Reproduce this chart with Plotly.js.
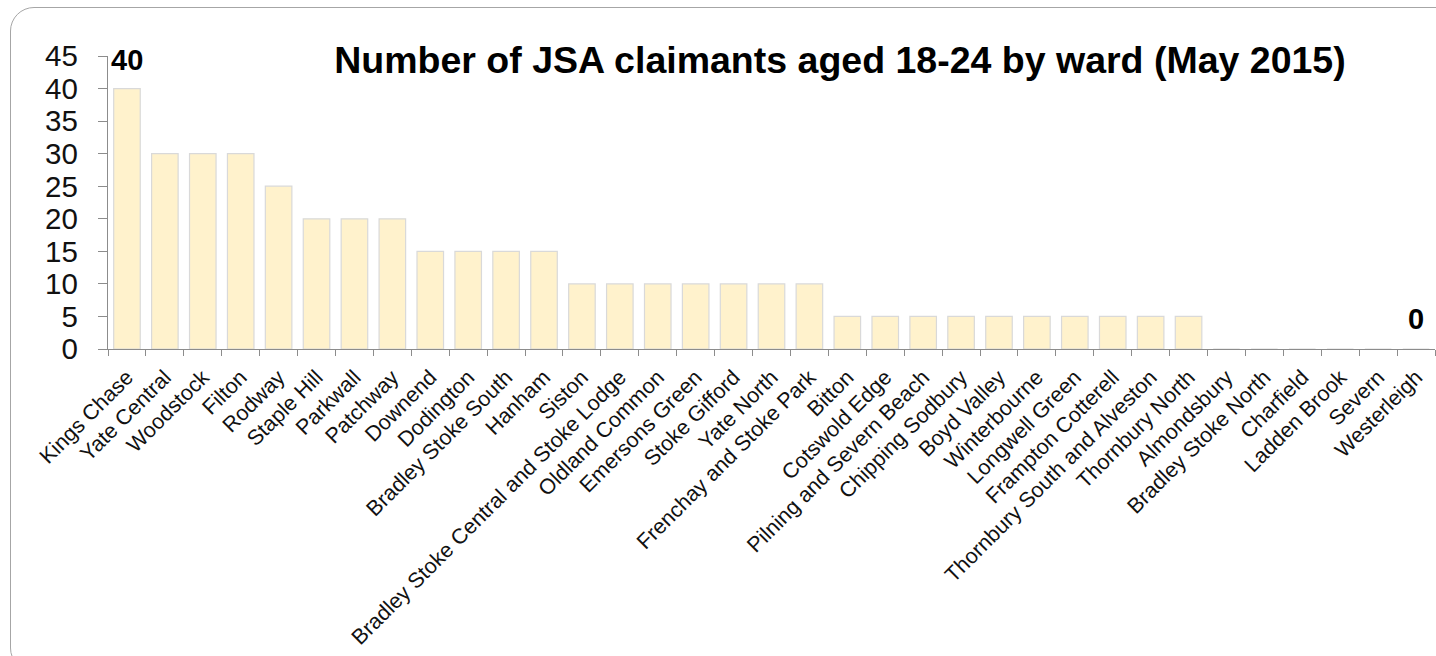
<!DOCTYPE html>
<html>
<head>
<meta charset="utf-8">
<script src="https://cdn.plot.ly/plotly-3.0.1.min.js"></script>
<style>
  html, body { margin: 0; padding: 0; background: #fff; overflow: hidden; }
  #frame { position: absolute; left: 10px; top: 7px; width: 1450px; height: 665px;
           border: 1.5px solid #a6a6a6; border-radius: 24px; box-sizing: border-box; }
  #chart { position: absolute; left: 0; top: 0; width: 1436px; height: 656px; }
</style>
</head>
<body>
<div id="frame"></div>
<div id="chart"></div>
<script>
const wards = [
  "Kings Chase", "Yate Central", "Woodstock", "Filton", "Rodway", "Staple Hill",
  "Parkwall", "Patchway", "Downend", "Dodington", "Bradley Stoke South", "Hanham",
  "Siston", "Bradley Stoke Central and Stoke Lodge", "Oldland Common", "Emersons Green",
  "Stoke Gifford", "Yate North", "Frenchay and Stoke Park", "Bitton", "Cotswold Edge",
  "Pilning and Severn Beach", "Chipping Sodbury", "Boyd Valley", "Winterbourne",
  "Longwell Green", "Frampton Cotterell", "Thornbury South and Alveston", "Thornbury North",
  "Almondsbury", "Bradley Stoke North", "Charfield", "Ladden Brook", "Severn", "Westerleigh"
];
const claimants = [
  40, 30, 30, 30, 25, 20,
  20, 20, 15, 15, 15, 15,
  10, 10, 10, 10,
  10, 10, 10, 5, 5,
  5, 5, 5, 5,
  5, 5, 5, 5,
  0, 0, 0, 0, 0, 0
];
const yTicks = [0, 5, 10, 15, 20, 25, 30, 35, 40, 45];
const chartTitle = "Number of JSA claimants aged 18-24 by ward (May 2015)";

const FONT = "Arial, 'Liberation Sans', sans-serif";
const maxVal = Math.max(...claimants);
const minVal = Math.min(...claimants);

const trace = {
  type: "bar",
  x: wards,
  y: claimants,
  marker: { color: "#fff2cc", line: { color: "#d9d9d9", width: 1.2 } },
  hoverinfo: "x+y"
};

const layout = {
  width: 1436,
  height: 656,
  margin: { l: 108, r: 1, t: 56, b: 307, pad: 0 },
  paper_bgcolor: "rgba(0,0,0,0)",
  plot_bgcolor: "rgba(0,0,0,0)",
  font: { family: FONT, color: "#111" },
  bargap: 0.3,
  showlegend: false,
  title: {
    text: "<b>" + chartTitle + "</b>",
    font: { family: FONT, size: 37.5, color: "#000" },
    xref: "paper", x: 0.5516, xanchor: "center",
    yref: "container", y: 1 - 60 / 656, yanchor: "middle"
  },
  xaxis: {
    type: "category",
    tickangle: -45,
    tickfont: { family: FONT, size: 21.5, color: "#111" },
    ticks: "outside",
    tickson: "boundaries",
    ticklen: 6,
    tickcolor: "#8c8c8c",
    ticklabelstandoff: 6,
    showline: true,
    linecolor: "#8c8c8c",
    linewidth: 1.2,
    showgrid: false,
    zeroline: false,
    automargin: false
  },
  yaxis: {
    range: [0, 45],
    tickvals: yTicks,
    ticktext: yTicks.map(String),
    tickfont: { family: FONT, size: 29.5, color: "#111" },
    ticks: "outside",
    ticklen: 9,
    tickcolor: "#8c8c8c",
    ticklabelstandoff: 14,
    showline: true,
    linecolor: "#8c8c8c",
    linewidth: 1.2,
    showgrid: false,
    zeroline: false,
    automargin: false
  },
  annotations: [
    {
      x: wards[claimants.indexOf(maxVal)], y: 45, xref: "x", yref: "y",
      text: "<b>" + maxVal + "</b>", showarrow: false,
      xanchor: "center", yanchor: "middle", yshift: -4,
      font: { family: FONT, size: 29, color: "#000" }
    },
    {
      x: wards[claimants.lastIndexOf(minVal)], y: 5, xref: "x", yref: "y",
      text: "<b>" + minVal + "</b>", showarrow: false,
      xanchor: "center", yanchor: "middle", yshift: -3,
      font: { family: FONT, size: 29, color: "#000" }
    }
  ]
};

Plotly.newPlot("chart", [trace], layout, { displayModeBar: false, staticPlot: true });
</script>
</body>
</html>
